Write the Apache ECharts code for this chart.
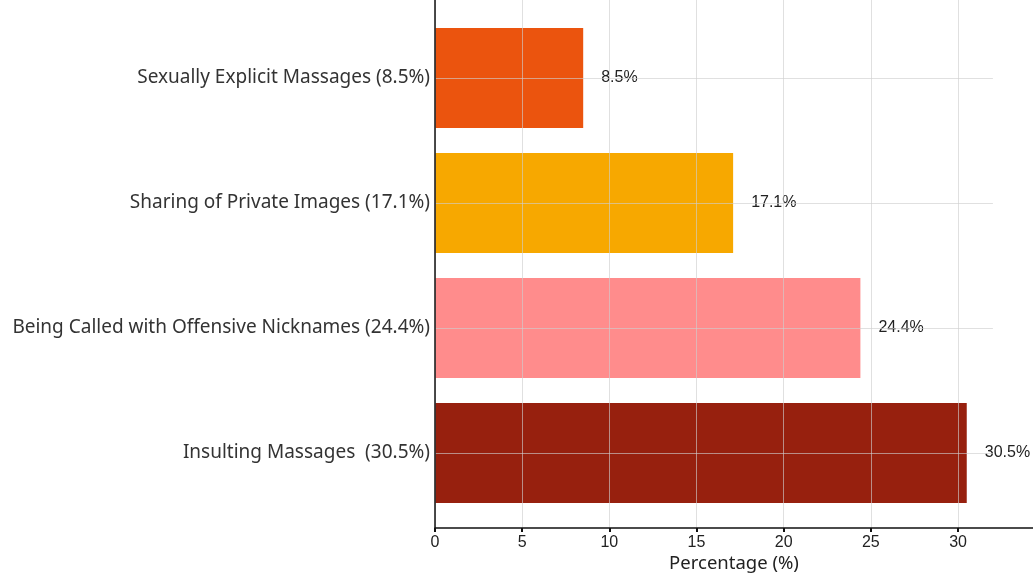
<!DOCTYPE html>
<html>
<head>
<meta charset="utf-8">
<style>
  html, body { margin: 0; padding: 0; background: #ffffff; }
  #chart { width: 1033px; height: 574px; }
</style>
<script src="https://cdn.jsdelivr.net/npm/echarts@6/dist/echarts.min.js"></script>
</head>
<body>
<div id="chart"></div>
<script>
// Types of online harassment and the share of respondents reporting each
const categories = [
  'Sexually Explicit Massages',
  'Sharing of Private Images',
  'Being Called with Offensive Nicknames',
  'Insulting Massages '
];
const values = [8.5, 17.1, 24.4, 30.5];
const barColors = ['#eb540e', '#f7a800', '#ff8c8c', '#97200e'];
const xTicks = [0, 5, 10, 15, 20, 25, 30];

const X_MAX = 34.3;      // right edge of the plotting area
const GRID_END = 32;     // horizontal guide lines stop here
const gridColor = 'rgba(206,206,206,0.63)';
const textFont = 'Noto Sans';

const labelText = categories.map((c, i) => c + ' (' + values[i] + '%)');

const chart = echarts.init(document.getElementById('chart'), null, { renderer: 'canvas' });

chart.setOption({
  animation: false,
  backgroundColor: '#ffffff',
  grid: [
    // bars
    { left: 435, right: 0, top: 15.5, height: 500, containLabel: false, outerBoundsMode: 'none' },
    // frame: x axis, vertical guides and left spine
    { left: 435, right: 0, top: 0, bottom: 46, containLabel: false, outerBoundsMode: 'none' }
  ],
  xAxis: [
    {
      gridIndex: 0, type: 'value', min: 0, max: X_MAX, interval: 5,
      show: false
    },
    {
      gridIndex: 1, type: 'value', min: 0, max: X_MAX, interval: 5,
      z: 5,
      name: 'Percentage (%)',
      nameLocation: 'middle',
      nameGap: 26,
      nameMoveOverlap: false,
      nameTextStyle: { fontFamily: textFont, fontSize: 18.5, color: '#222' },
      axisLine: { show: true, lineStyle: { color: '#111', width: 1.5 } },
      axisTick: { show: true, inside: false, length: 4, lineStyle: { color: '#111', width: 2 } },
      axisLabel: {
        margin: 7, fontFamily: 'Liberation Sans', fontSize: 16, color: '#222',
        showMaxLabel: false,
        formatter: v => (xTicks.indexOf(v) >= 0 ? String(v) : '')
      },
      splitLine: { show: true, lineStyle: { color: gridColor, width: 1 } }
    }
  ],
  yAxis: [
    {
      gridIndex: 0, type: 'category', inverse: true,
      data: labelText,
      axisLine: { show: false },
      axisTick: { show: false },
      splitLine: { show: false },
      axisLabel: { margin: 5, fontFamily: textFont, fontSize: 19, color: '#333' }
    },
    {
      gridIndex: 1, type: 'value', min: 0, max: 1,
      z: 5,
      axisLine: { show: true, lineStyle: { color: '#111', width: 1.5 } },
      axisTick: { show: false },
      axisLabel: { show: false },
      splitLine: { show: false }
    }
  ],
  series: [
    {
      type: 'bar',
      xAxisIndex: 0,
      yAxisIndex: 0,
      barWidth: 100,
      data: values.map((v, i) => ({ value: v, itemStyle: { color: barColors[i] } })),
      label: {
        show: true,
        position: 'right',
        distance: 18,
        formatter: p => p.value + '%',
        fontFamily: 'Liberation Sans',
        fontSize: 16,
        color: '#222'
      },
      markLine: {
        silent: true,
        symbol: ['none', 'none'],
        label: { show: false },
        lineStyle: { type: 'solid', color: gridColor, width: 1 },
        data: labelText.map(c => [{ coord: [0, c] }, { coord: [GRID_END, c] }])
      }
    }
  ]
});
</script>
</body>
</html>
